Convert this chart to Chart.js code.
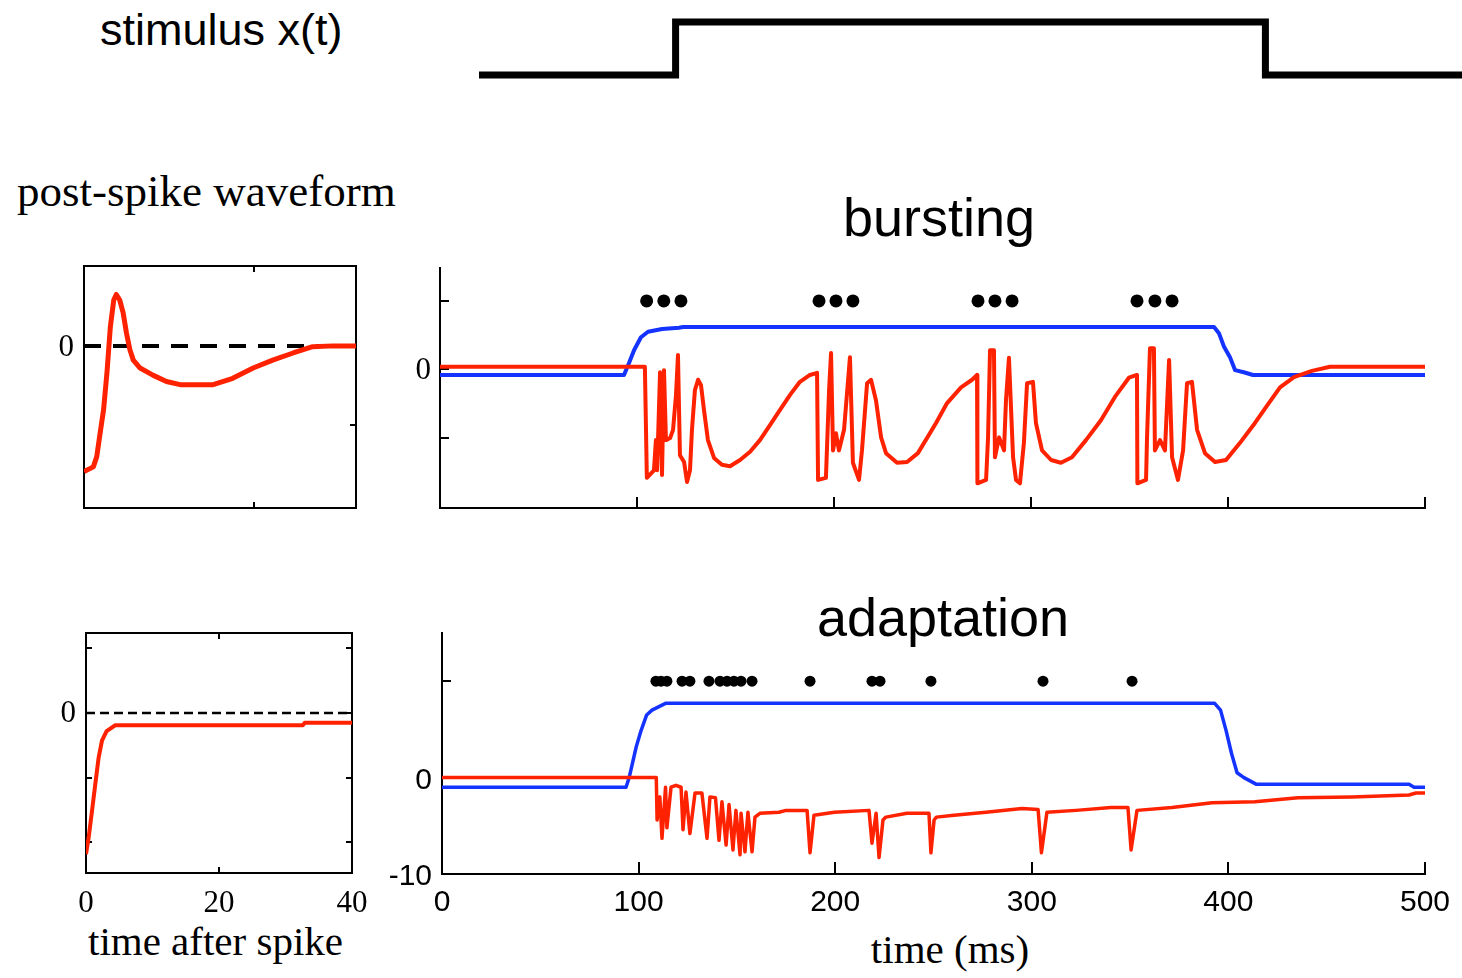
<!DOCTYPE html>
<html>
<head>
<meta charset="utf-8">
<script src="https://cdn.jsdelivr.net/npm/chart.js@4.4.0/dist/chart.umd.min.js"></script>
<style>
body { margin: 0; background: #fff; width: 1462px; height: 978px; position: relative; overflow: hidden; }
canvas, .lbl { position: absolute; }
.lbl { line-height: 1; white-space: nowrap; color: #000; }
.sans { font-family: "Liberation Sans", Arial, sans-serif; }
.serif { font-family: "Liberation Serif", "Times New Roman", serif; }
</style>
</head>
<body>
<div class="lbl sans" style="left:100px;top:7px;font-size:45px">stimulus x(t)</div>
<div class="lbl serif" style="left:17px;top:169px;font-size:45px">post-spike waveform</div>
<div class="lbl sans" style="left:939px;top:190px;font-size:54px;transform:translateX(-50%)">bursting</div>
<div class="lbl sans" style="left:943px;top:590px;font-size:54px;transform:translateX(-50%)">adaptation</div>
<div class="lbl serif" style="left:88px;top:921px;font-size:41px">time after spike</div>
<div class="lbl serif" style="left:950px;top:929px;font-size:41px;transform:translateX(-50%)">time (ms)</div>
<script>
/* ------------------------ Données --------------------- */

const stimT = [0, 100, 400, 500];
const stimX = [0, 1, 0, 0];

/* post-spike waveform, bursting cell */
const wave1Range = [0, 32];
const wave1T = [0, 1.1, 1.5, 1.9, 2.3, 2.7, 3.1, 3.5, 3.8, 4.2, 4.6, 5.0, 5.4, 5.8, 6.6, 8.1, 9.7, 11.3, 15.2, 17.5, 19.9, 22.2, 24.6, 26.9, 29.3, 32];
const wave1V = [-1.59, -1.53, -1.40, -1.10, -0.81, -0.34, 0.24, 0.58, 0.65, 0.58, 0.42, 0.16, -0.05, -0.18, -0.28, -0.37, -0.45, -0.49, -0.49, -0.41, -0.28, -0.18, -0.09, -0.01, 0, 0];

/* post-spike waveform, adapting cell */
const wave2Range = [0, 40];
const wave2T = [0, 0.4, 0.9, 1.4, 1.9, 2.4, 3.1, 4.4, 32.6, 32.9, 40];
const wave2V = [-2.19, -1.93, -1.52, -1.10, -0.69, -0.43, -0.28, -0.19, -0.19, -0.15, -0.15];
const waveTicks = [0, 20, 40];

/* bursting */
const burstRedT = [0, 104, 105, 108.6, 109.6, 110.2, 111.7, 112.7, 113.7, 114.7, 116.8, 118.3, 119.8, 120.8, 121.8, 123.9, 125.4, 126.9, 127.9, 129.4, 131.0, 132.5, 134.0, 136.0, 139.1, 143.1, 147.2, 152.3, 157.4, 162.4, 167.5, 172.6, 177.7, 182.7, 187.8, 191.4,
  191.9, 195.9, 197.5, 198.5, 199.5, 201.0, 202.5, 205.1, 208.1, 209.6, 212.7, 214.2, 216.8, 218.8, 221.3, 223.9, 226.4, 232.0, 237.1, 242.6, 251.8, 257.4, 264.5, 270.1, 272.6,
  272.8, 277.2, 278.2, 279.2, 281.2, 281.7, 283.8, 286.3, 287.3, 288.8, 290.9, 292.4, 294.4, 296.4, 298.0, 301.0, 302.5, 305.6, 310.2, 315.2, 320.8, 327.9, 335.5, 342.6, 349.7, 353.8,
  354.0, 358.4, 358.9, 360.4, 362.4, 362.9, 365.5, 368.0, 370.1, 371.6, 374.6, 377.2, 379.2, 381.7, 384.3, 388.3, 393.4, 399.0, 406.1, 413.7, 419.3, 426.4, 433.5, 442.6, 451.8, 500];
const burstRedV = [0.04, 0.04, -1.58, -1.47, -1.03, -1.47, -0.04, -1.54, -0.01, -1.03, -1.00, -0.88, -0.37, 0.21, -1.25, -1.35, -1.64, -1.47, -0.88, -0.30, -0.15, -0.23, -0.59, -1.03, -1.29, -1.39, -1.41, -1.32, -1.20, -1.03, -0.81, -0.59, -0.37, -0.18, -0.08, -0.05,
  -1.61, -1.58, -0.30, 0.24, -1.18, -0.93, -1.18, -0.88, 0.18, -1.36, -1.61, -1.18, -0.20, -0.15, -0.45, -0.99, -1.22, -1.36, -1.35, -1.22, -0.78, -0.49, -0.26, -0.15, -0.08,
  -1.66, -1.61, -0.99, 0.28, 0.28, -1.28, -0.99, -1.18, -0.45, 0.17, -1.28, -1.61, -1.66, -1.07, -0.20, -0.18, -0.78, -1.18, -1.32, -1.36, -1.28, -1.03, -0.74, -0.40, -0.12, -0.08,
  -1.66, -1.61, -0.99, 0.31, 0.31, -1.18, -1.03, -1.18, 0.14, -1.28, -1.61, -1.18, -0.20, -0.18, -0.88, -1.22, -1.35, -1.32, -1.07, -0.78, -0.55, -0.26, -0.11, -0.02, 0.04, 0.04];
const burstBlueT = [0, 93.4, 95.9, 98.5, 102.0, 105.6, 112.7, 121.3, 123.4, 392.9, 395.4, 398.0, 401.0, 403.6, 408.0, 412.7, 500];
const burstBlueV = [-0.08, -0.08, 0.09, 0.28, 0.47, 0.55, 0.59, 0.61, 0.62, 0.62, 0.53, 0.33, 0.18, -0.01, -0.04, -0.08, -0.08];
const burstSpikes = [104.9, 113.6, 122.3, 192.4, 201.0, 209.6, 273.1, 281.7, 290.4, 353.8, 362.9, 371.6];
const burstSpikeLevel = 1;

/* adaptation */
const adaptRedT = [0, 109, 109.4, 110.8, 111.9, 113.7, 114.4, 116.5, 119.0, 121.6, 122.6, 124.1, 126.1, 128.7, 132.2, 134.8, 136.3, 139.1, 140.9, 142.4, 144.5, 146.0, 148.0, 149.5, 151.6, 152.1, 154.1, 155.6, 157.7, 159.2, 161.7, 171.4, 175.0, 185.7, 187.2, 189.2, 199.6, 217.2, 218.7, 220.8, 222.3, 224.3, 225.8, 236.5, 247.7, 248.7, 250.3, 251.5, 260.4, 276.7, 295.0, 303.2, 304.9, 307.7, 322.5, 340.3, 348.9, 350.5, 353.5, 371.3, 391.7, 413.5, 435.4, 462.9, 491.9, 495.4, 500];
const adaptRedV = [0, 0, -4.4, -2.0, -6.3, -1.0, -5.2, -1.0, -0.8, -1.0, -5.4, -1.5, -5.8, -1.6, -1.6, -6.3, -2.0, -2.1, -6.5, -2.5, -7.0, -2.8, -7.5, -3.4, -8.0, -3.7, -7.7, -3.6, -7.7, -4.1, -3.7, -3.6, -3.4, -3.4, -7.8, -3.9, -3.6, -3.4, -6.8, -3.7, -8.3, -4.4, -4.1, -3.7, -3.7, -7.8, -4.4, -4.1, -3.9, -3.6, -3.2, -3.3, -7.8, -3.6, -3.4, -3.1, -3.1, -7.5, -3.4, -3.1, -2.6, -2.5, -2.1, -2.0, -1.8, -1.6, -1.6];
const adaptBlueT = [0, 93.6, 95.2, 98.8, 101.3, 104.1, 106.8, 113.7, 393.0, 396.0, 398.8, 401.6, 404.4, 407.9, 414.3, 491.9, 494.4, 500];
const adaptBlueV = [-1.0, -1.0, 0, 3.2, 4.9, 6.5, 7.0, 7.7, 7.7, 7.0, 4.9, 2.5, 0.5, 0, -0.7, -0.7, -1.0, -1.0];
const adaptSpikes = [108.8, 111.4, 114.4, 122.1, 126.1, 135.8, 141.4, 145.0, 148.5, 152.1, 157.7, 187.2, 218.7, 222.8, 248.7, 305.7, 351.0];
const adaptSpikeLevel = 10;

const timeTicks = [0, 100, 200, 300, 400, 500];

/* ------------------------ Outils --------------------- */

const RED = "#ff2200";
const BLUE = "#1433ff";
const SERIF = { family: "'Liberation Serif', 'Times New Roman', serif", size: 31 };
const SANS = { family: "'Liberation Sans', Arial, sans-serif", size: 30 };

const pts = (xs, ys) => xs.map((x, i) => ({ x: x, y: ys[i] }));
const flat = (xs, v) => xs.map(x => ({ x: x, y: v }));

function addCanvas(id, left, top, w, h) {
    const c = document.createElement("canvas");
    c.setAttribute("id", id);
    c.setAttribute("width", w);
    c.setAttribute("height", h);
    c.style.left = left + "px";
    c.style.top = top + "px";
    document.body.appendChild(c);
    return c;
}

/* axe avec petites graduations vers l'intérieur (style matlab) */
function axis(position, min, max, tickValues, size, tickLen, labelFn, font, pad, shift) {
    const vertical = position === "left" || position === "right";
    return {
        type: "linear",
        position: position,
        min: min,
        max: max,
        afterBuildTicks: s => { s.ticks = tickValues.map(v => ({ value: v })); },
        afterFit: s => {
            if (vertical) { s.width = size; s.paddingTop = 0; s.paddingBottom = 0; }
            else { s.height = size; s.paddingLeft = 0; s.paddingRight = 0; }
        },
        border: { display: true, color: "#000", width: 2 },
        grid: { drawOnChartArea: false, drawTicks: true, tickLength: -tickLen, color: "#000", lineWidth: 2 },
        ticks: labelFn
            ? { display: true, callback: labelFn, font: font, color: "#000", padding: pad, labelOffset: shift || 0,
                maxRotation: 0, autoSkip: false }
            : { display: false }
    };
}

function trace(data, color, width, order) {
    return { data: data, borderColor: color, borderWidth: width, pointRadius: 0, tension: 0,
             borderJoinStyle: "round", borderCapStyle: "butt", order: order };
}

function dots(data, radius) {
    return { data: data, showLine: false, pointRadius: radius, pointBackgroundColor: "#000",
             pointBorderWidth: 0, borderColor: "#000", order: 0 };
}

const common = {
    responsive: false,
    animation: false,
    devicePixelRatio: 1,
    events: [],
    plugins: { legend: { display: false }, tooltip: { enabled: false } }
};

const onlyZero = v => (v === 0 ? "0" : "");

/*  ---------------------- stimulus ----------------------------------------- */

new Chart(addCanvas("stim", 479, 0, 983, 100), {
    type: "line",
    data: { datasets: [{ data: pts(stimT, stimX), stepped: "before", borderColor: "#000", borderWidth: 7,
                         pointRadius: 0, clip: false, borderJoinStyle: "miter", borderCapStyle: "butt" }] },
    options: Object.assign({}, common, {
        layout: { padding: { top: 22, bottom: 25, left: 0, right: 0 } },
        scales: {
            x: { type: "linear", display: false, min: 0, max: 500 },
            y: { display: false, min: 0, max: 1 }
        }
    })
});

/*  ---------------------- post-spike waveform 1 ----------------------------------------- */

new Chart(addCanvas("wave1", 20, 240, 350, 290), {
    type: "line",
    data: { datasets: [
        trace(pts(wave1T, wave1V), RED, 5, 0),
        Object.assign(trace(flat(wave1Range, 0), "#000", 4, 1), { borderDash: [17, 12] })
    ] },
    options: Object.assign({}, common, {
        layout: { padding: 0 },
        scales: {
            x: axis("bottom", 0, 32, [20], 22, 6),
            x2: axis("top", 0, 32, [20], 26, 6),
            y: axis("left", -2.05, 1.01, [0], 64, 6, onlyZero, SERIF, 16, 2),
            y2: axis("right", -2.05, 1.01, [-1, 0], 14, 6)
        }
    })
});

/*  ---------------------- post-spike waveform 2 ----------------------------------------- */

new Chart(addCanvas("wave2", 20, 605, 350, 325), {
    type: "line",
    data: { datasets: [
        trace(pts(wave2T, wave2V), RED, 4, 0),
        Object.assign(trace(flat(wave2Range, 0), "#000", 2.5, 1), { borderDash: [9, 5] })
    ] },
    options: Object.assign({}, common, {
        layout: { padding: 0 },
        scales: {
            x: axis("bottom", 0, 40, waveTicks, 57, 6, v => String(v), SERIF, 18),
            x2: axis("top", 0, 40, [20], 28, 6),
            y: axis("left", -2.48, 1.24, [-2, -1, 0, 1], 66, 6, onlyZero, SERIF, 16, 1),
            y2: axis("right", -2.48, 1.24, [-2, -1, 0, 1], 18, 6)
        }
    })
});

/*  ---------------------- bursting ----------------------------------------- */

new Chart(addCanvas("burst", 380, 240, 1082, 290), {
    type: "line",
    data: { datasets: [
        dots(flat(burstSpikes, burstSpikeLevel), 6.5),
        trace(pts(burstRedT, burstRedV), RED, 4, 1),
        trace(pts(burstBlueT, burstBlueV), BLUE, 4, 2)
    ] },
    options: Object.assign({}, common, {
        layout: { padding: { top: 28, right: 37, left: 0, bottom: 0 } },
        scales: {
            x: axis("bottom", 0, 500, timeTicks, 22, 11),
            y: axis("left", -2.02, 1.48, [-1, 0, 1], 60, 9, onlyZero, SERIF, 18, 1)
        }
    })
});

/*  ---------------------- adaptation ----------------------------------------- */

new Chart(addCanvas("adapt", 380, 605, 1082, 335), {
    type: "line",
    data: { datasets: [
        dots(flat(adaptSpikes, adaptSpikeLevel), 5.5),
        trace(pts(adaptRedT, adaptRedV), RED, 3.5, 1),
        trace(pts(adaptBlueT, adaptBlueV), BLUE, 3.5, 2)
    ] },
    options: Object.assign({}, common, {
        layout: { padding: { top: 28, right: 37, left: 0, bottom: 0 } },
        scales: {
            x: axis("bottom", 0, 500, timeTicks, 66, 12, v => String(v), SANS, 23),
            y: axis("left", -10, 15, [-10, 0, 10], 62, 9, v => (v === 10 ? "" : String(v)), SANS, 19, 3)
        }
    })
});
</script>
</body>
</html>
